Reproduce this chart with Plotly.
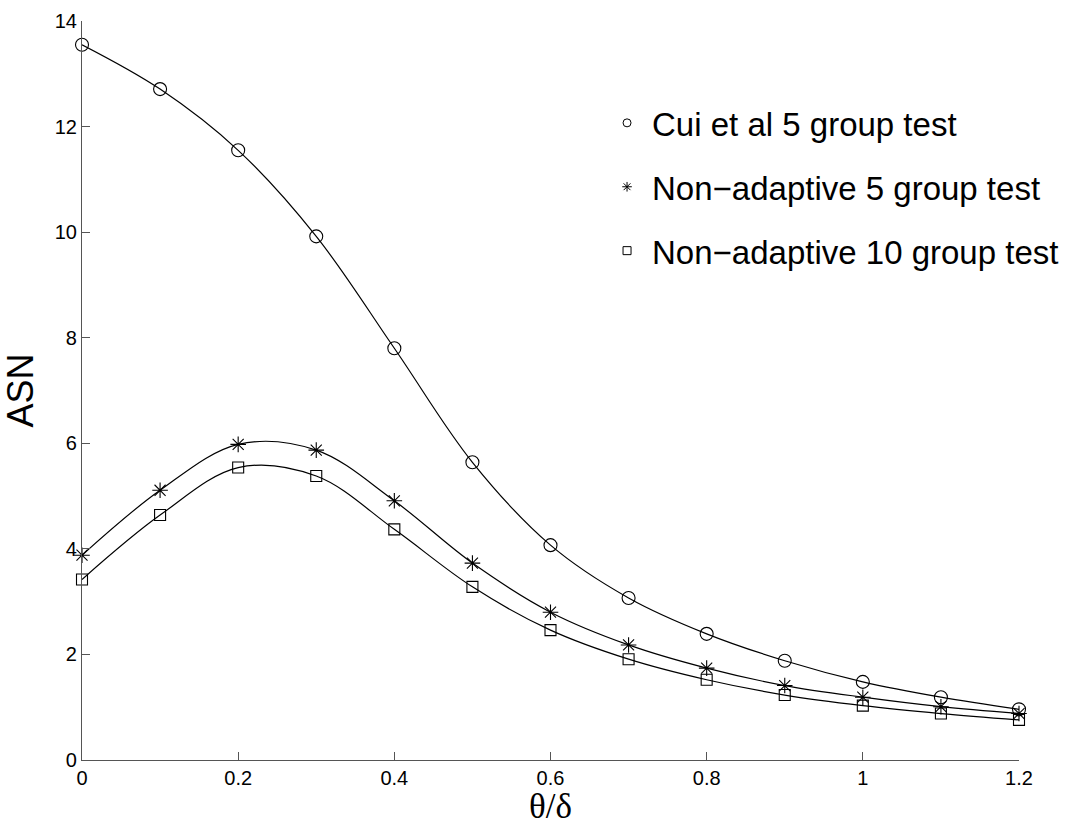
import plotly.graph_objects as go

x_vals = [0, 0.1, 0.2, 0.3, 0.4, 0.5, 0.6, 0.7, 0.8, 0.9, 1.0, 1.1, 1.2]
cui5 = [13.55, 12.71, 11.55, 9.92, 7.80, 5.64, 4.07, 3.07, 2.39, 1.88, 1.48, 1.19, 0.96]
nonad5 = [3.88, 5.11, 5.98, 5.87, 4.91, 3.73, 2.80, 2.18, 1.74, 1.41, 1.19, 1.01, 0.88]
nonad10 = [3.42, 4.64, 5.54, 5.38, 4.37, 3.28, 2.46, 1.91, 1.52, 1.23, 1.03, 0.88, 0.76]
names = ["Cui et al 5 group test", "Non\u2212adaptive 5 group test", "Non\u2212adaptive 10 group test"]
symbols = ["circle-open", "asterisk-open", "square-open"]
series = [cui5, nonad5, nonad10]

fig = go.Figure()
for i, (ys, nm, sym) in enumerate(zip(series, names, symbols)):
    fig.add_trace(go.Scatter(x=x_vals, y=ys, mode="lines",
                             line=dict(color="black", width=1.2, shape="spline", smoothing=1.0),
                             showlegend=False, hoverinfo="skip"))
    fig.add_trace(go.Scatter(x=x_vals, y=ys, mode="markers",
                             marker=dict(symbol=sym, size=13 if sym != "square-open" else 11,
                                         color="black", line=dict(color="black", width=1.1)),
                             showlegend=False, cliponaxis=False))
    fig.add_trace(go.Scatter(x=[None], y=[None], mode="markers", name=nm,
                             legendgroup=f"g{i}",
                             marker=dict(symbol=sym, size=8, color="black",
                                         line=dict(color="black", width=1))))

fig.update_layout(
    width=1076, height=826,
    margin=dict(l=82, r=57, t=21, b=66),
    paper_bgcolor="white", plot_bgcolor="white",
    font=dict(family="Liberation Sans, Arial, sans-serif", color="black"),
    legend=dict(x=0.555, y=0.9, xanchor="left", yanchor="top",
                font=dict(size=33, family="Liberation Sans, Arial, sans-serif"),
                bgcolor="rgba(0,0,0,0)", tracegroupgap=18, traceorder="grouped",
                itemwidth=40),
    xaxis=dict(range=[0, 1.2], tickvals=[0, 0.2, 0.4, 0.6, 0.8, 1.0, 1.2],
               ticktext=["0", "0.2", "0.4", "0.6", "0.8", "1", "1.2"],
               ticks="inside", ticklen=8, tickcolor="#555", tickwidth=1,
               showline=True, linecolor="#555", linewidth=1.2, showgrid=False, zeroline=False,
               tickfont=dict(size=20), automargin=False,
               title=dict(text="\u03b8/\u03b4", font=dict(size=35, family="Liberation Serif, Times New Roman, serif"),
                          standoff=13)),
    yaxis=dict(range=[0, 14], tickvals=list(range(0, 15, 2)),
               ticks="inside", ticklen=8, tickcolor="#555", tickwidth=1,
               showline=True, linecolor="#555", linewidth=1.2, showgrid=False, zeroline=False,
               tickfont=dict(size=20), automargin=False,
               title=dict(text="ASN", font=dict(size=36), standoff=14)),
)

fig.write_html("out.html")
